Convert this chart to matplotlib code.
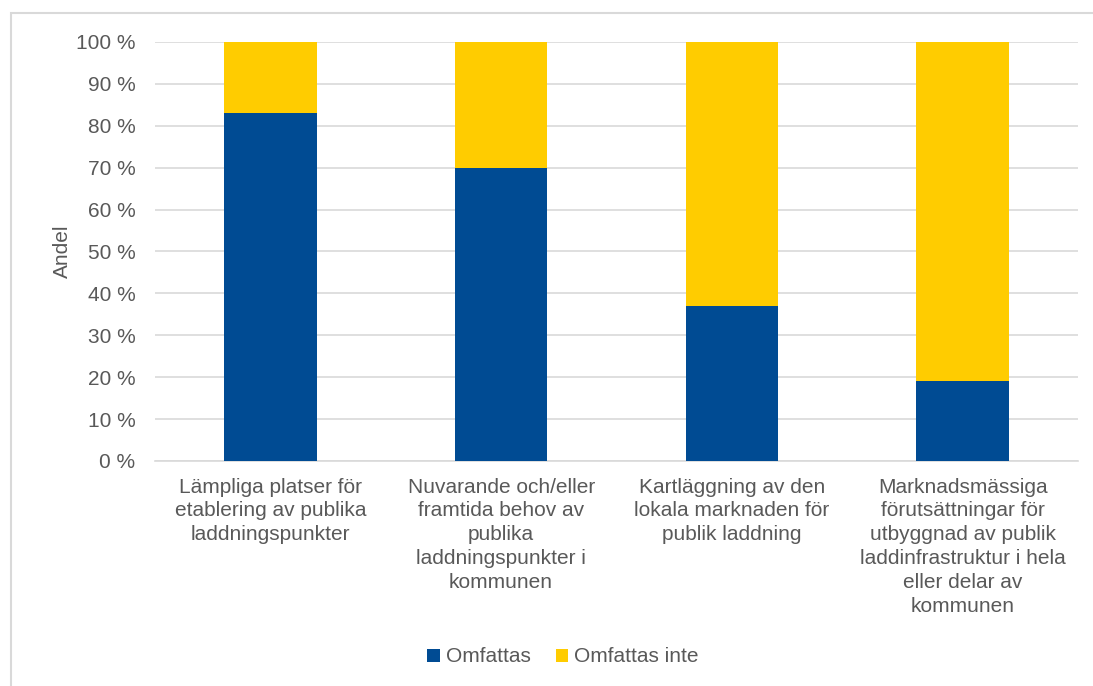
import numpy as np
import matplotlib.pyplot as plt
from matplotlib.patches import Rectangle

plt.rcParams['font.family'] = ['Liberation Sans', 'DejaVu Sans']

categories = [
    "Lämpliga platser för\netablering av publika\nladdningspunkter",
    "Nuvarande och/eller\nframtida behov av\npublika\nladdningspunkter i\nkommunen",
    "Kartläggning av den\nlokala marknaden för\npublik laddning",
    "Marknadsmässiga\nförutsättningar för\nutbyggnad av publik\nladdinfrastruktur i hela\neller delar av\nkommunen",
]
omfattas = [83, 70, 37, 19]
omfattas_inte = [17, 30, 63, 81]
series_names = ["Omfattas", "Omfattas inte"]

BLUE = "#004B93"
YELLOW = "#FFCC00"
TEXT = "#595959"
GRID = "#D9D9D9"
FS = 15

fig = plt.figure(figsize=(10.93, 6.86), dpi=100)
# frame round the chart area
fig.patches.append(Rectangle((11 / 1093, -0.1), 1.2, 1.1 - 13 / 686, transform=fig.transFigure,
                             fill=False, edgecolor=GRID, linewidth=1.5))

ax = fig.add_axes([155 / 1093, (686 - 461) / 686, 923 / 1093, 419 / 686])
x = np.arange(len(categories))
ax.bar(x, omfattas, width=0.4, color=BLUE, label=series_names[0], zorder=3)
ax.bar(x, omfattas_inte, width=0.4, bottom=omfattas, color=YELLOW, label=series_names[1], zorder=3)

ax.set_xlim(-0.5, len(categories) - 0.5)
ax.set_ylim(0, 100)
ax.set_yticks(range(0, 101, 10))
ax.set_yticklabels([f"{v} %" for v in range(0, 101, 10)])
ax.set_xticks(x)
ax.set_xticklabels(categories, linespacing=1.32)
ax.tick_params(axis="y", length=0, pad=14, labelsize=FS, labelcolor=TEXT)
ax.tick_params(axis="x", length=0, pad=12, labelsize=FS, labelcolor=TEXT)
ax.yaxis.grid(True, color=GRID, linewidth=1.2, zorder=0)
for s in ["top", "left", "right"]:
    ax.spines[s].set_visible(False)
ax.spines["bottom"].set_color(GRID)
ax.spines["bottom"].set_linewidth(1.2)
ax.set_ylabel("Andel", fontsize=FS, color=TEXT, labelpad=3)

fig.legend(loc="center", bbox_to_anchor=(563 / 1093, 1 - 657 / 686), ncol=2, frameon=False,
           fontsize=FS, labelcolor=TEXT, handlelength=0.6, handleheight=0.6,
           handletextpad=0.3, columnspacing=1.2)

fig.savefig("out.png", dpi=100)
